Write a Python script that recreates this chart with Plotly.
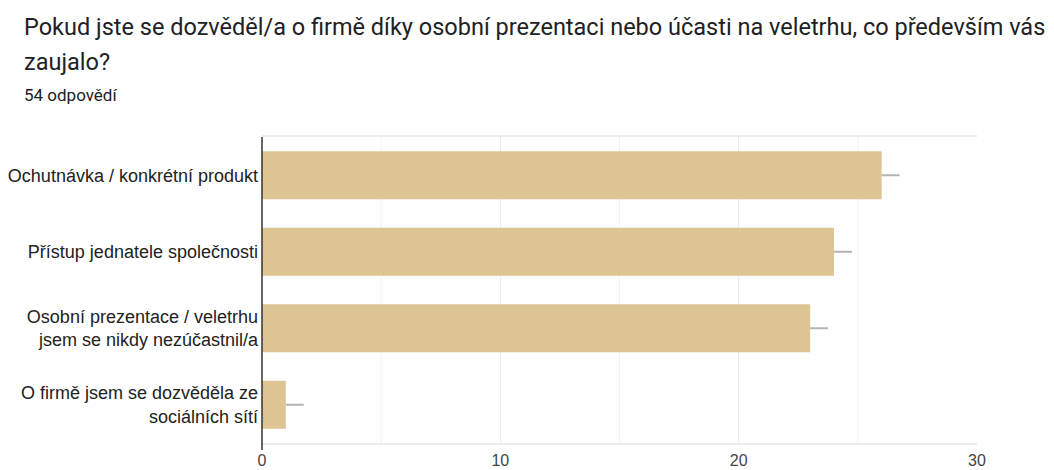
import plotly.graph_objects as go

# Answers (category labels) and response counts
categories = [
    "Ochutnávka / konkrétní produkt",
    "Přístup jednatele společnosti",
    "Osobní prezentace / veletrhu<br>jsem se nikdy nezúčastnil/a",
    "O firmě jsem se dozvěděla ze<br>sociálních sítí",
]
counts = [26, 24, 23, 1]
whisker = [0.75, 0.75, 0.75, 0.75]
tick_values = [0, 10, 20, 30]

title_line1 = "Pokud jste se dozvěděl/a o firmě díky osobní prezentaci nebo účasti na veletrhu, co především vás"
title_line2 = "zaujalo?"
subtitle = "54 odpovědí"

bar_color = "#dcc593"

PLOT_L, PLOT_R, PLOT_T, PLOT_B = 262, 977, 137, 443
PW, PH = PLOT_R - PLOT_L, PLOT_B - PLOT_T


def px_to_paper_x(px):
    return (px - PLOT_L) / PW


def px_to_paper_y(py):
    return (PLOT_B - py) / PH


fig = go.Figure(
    go.Bar(
        x=counts,
        y=categories,
        orientation="h",
        marker=dict(color=bar_color, line=dict(width=0)),
        width=0.63,
        error_x=dict(type="data", array=whisker, symmetric=False, arrayminus=[0] * 4,
                     color="#b3b3b3", thickness=2, width=0),
        hoverinfo="x+y",
    )
)

fig.update_layout(
    width=1054,
    height=470,
    margin=dict(l=PLOT_L, r=1054 - PLOT_R, t=PLOT_T, b=470 - PLOT_B, autoexpand=False),
    paper_bgcolor="white",
    plot_bgcolor="white",
    showlegend=False,
    font=dict(family="Liberation Sans, Arial, sans-serif", color="#222222", size=18),
    xaxis=dict(
        range=[0, 30],
        tickvals=tick_values,
        showgrid=True,
        gridcolor="#ececec",
        gridwidth=1,
        zeroline=False,
        showline=True,
        linecolor="#ececec",
        linewidth=2,
        mirror=True,
        ticks="",
        ticklabelstandoff=2,
        tickfont=dict(size=16, color="#444444"),
        automargin=False,
        fixedrange=True,
    ),
    yaxis=dict(
        autorange="reversed",
        showgrid=False,
        zeroline=False,
        showline=False,
        ticks="",
        ticklabelstandoff=3,
        tickfont=dict(size=18, color="#222222"),
        automargin=False,
        fixedrange=True,
    ),
    bargap=0.37,
)

# Minor gridlines every 5 units
for v in [5, 15, 25]:
    fig.add_shape(type="line", xref="x", yref="paper", x0=v, x1=v, y0=0, y1=1,
                  line=dict(color="#f2f2f2", width=1), layer="below")

# Dark left axis line running slightly below the plot area
fig.add_shape(type="line", xref="paper", yref="paper", x0=0, x1=0, y0=px_to_paper_y(450), y1=1,
              line=dict(color="#333333", width=1.5))

title_font = dict(family="Roboto, sans-serif", size=23.5, color="#202124")
fig.add_annotation(text=title_line1, xref="paper", yref="paper", x=px_to_paper_x(22), y=px_to_paper_y(27),
                   xanchor="left", yanchor="middle", showarrow=False, font=title_font)
fig.add_annotation(text=title_line2, xref="paper", yref="paper", x=px_to_paper_x(22), y=px_to_paper_y(62),
                   xanchor="left", yanchor="middle", showarrow=False, font=title_font)
fig.add_annotation(text=subtitle, xref="paper", yref="paper", x=px_to_paper_x(22), y=px_to_paper_y(95),
                   xanchor="left", yanchor="middle", showarrow=False,
                   font=dict(family="Roboto, sans-serif", size=17, color="#202124"))

fig.write_html("out.html")
